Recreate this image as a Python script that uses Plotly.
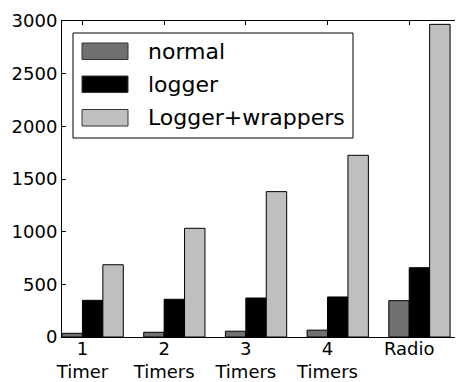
import plotly.graph_objects as go

categories = ["1<br>Timer", "2<br>Timers", "3<br>Timers", "4<br>Timers", "Radio"]
normal = [35, 45, 55, 65, 345]
logger = [348, 358, 370, 380, 658]
logger_wrappers = [686, 1032, 1380, 1725, 2968]
y_ticks = [0, 500, 1000, 1500, 2000, 2500, 3000]

series = [
    ("normal", normal, "#707070", 0.0),
    ("logger", logger, "#000000", 0.25),
    ("Logger+wrappers", logger_wrappers, "#bfbfbf", 0.5),
]

# page body has an 8px margin; layout measured in window pixels
OFF = 8
W, H = 463 - OFF, 382 - OFF
L, T = 62 - OFF, 21 - OFF
B = H - (337 - OFF)
R = 0
PW, PH = W - L - R, H - T - B
UNIT = 81.7  # px per category


def px_x(x):
    return (x - OFF - L) / PW


def px_y(y):
    return (H - B - (y - OFF)) / PH


idx = list(range(len(categories)))
fig = go.Figure()
for name, vals, color, off in series:
    fig.add_trace(go.Bar(
        x=idx, y=vals, name=name, width=0.25, offset=off,
        marker=dict(color=color, line=dict(color="#000000", width=1)),
        showlegend=False,
    ))

font = "DejaVu Sans, sans-serif"

# legend drawn as a framed box with swatches and text labels
shapes = [dict(type="rect", xref="paper", yref="paper",
               x0=px_x(73), x1=px_x(353), y0=px_y(138), y1=px_y(33),
               line=dict(color="black", width=1), fillcolor="white", layer="above")]
annotations = []
row_tops = [43, 76, 109.5]
for (name, _, color, _), top in zip(series, row_tops):
    shapes.append(dict(type="rect", xref="paper", yref="paper",
                       x0=px_x(82), x1=px_x(128), y0=px_y(top + 16.5), y1=px_y(top),
                       line=dict(color="#333333", width=1), fillcolor=color, layer="above"))
    annotations.append(dict(xref="paper", yref="paper", x=px_x(146), y=px_y(top + 8.5),
                            xanchor="left", yanchor="middle", text=name, showarrow=False,
                            font=dict(size=22, family=font, color="black")))

fig.update_layout(
    width=W, height=H,
    margin=dict(l=L, r=R, t=T, b=B),
    barmode="overlay",
    plot_bgcolor="white", paper_bgcolor="white",
    font=dict(family=font, size=18, color="black"),
    showlegend=False,
    shapes=shapes,
    annotations=annotations,
    xaxis=dict(
        range=[0, PW / UNIT],
        tickvals=[i + 0.25 for i in idx], ticktext=categories,
        ticks="inside", ticklen=4, tickcolor="black",
        showline=True, linecolor="black", linewidth=1, mirror="ticks",
        showgrid=False, zeroline=False, automargin=False,
        ticklabelstandoff=-5,
        tickfont=dict(size=18),
    ),
    yaxis=dict(
        range=[0, 3000], tickvals=y_ticks,
        ticks="inside", ticklen=4, tickcolor="black",
        showline=True, linecolor="black", linewidth=1, mirror="ticks",
        showgrid=False, zeroline=False, automargin=False,
        tickfont=dict(size=18),
    ),
)

fig.write_html("out.html")
